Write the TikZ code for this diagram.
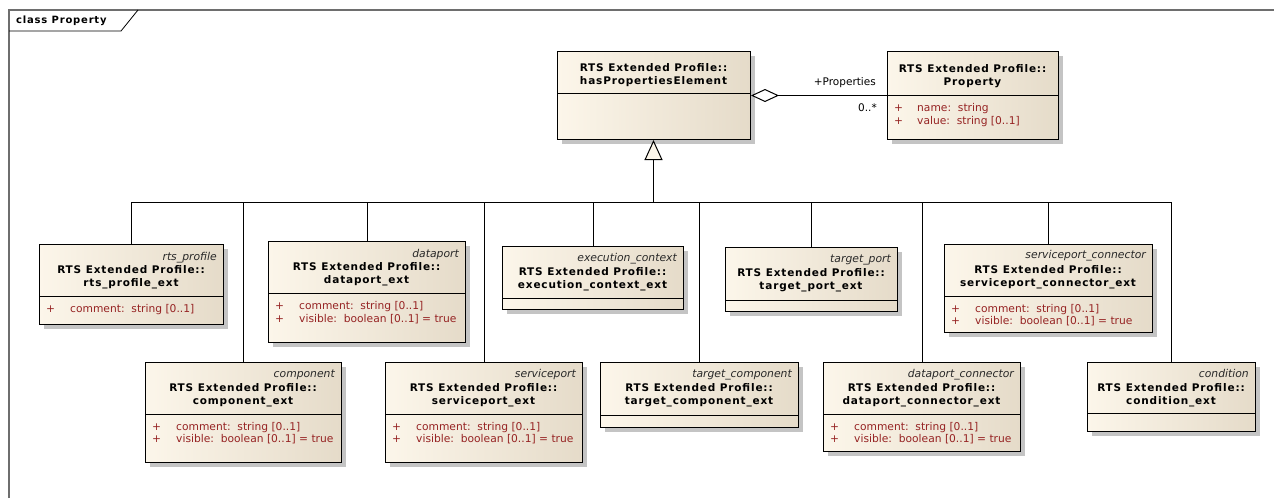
\documentclass[tikz,border=0pt]{standalone}
\usepackage{fontspec}
\setmainfont{DejaVu Sans}
\newfontfamily\clsfont[LetterSpace=8]{DejaVu Sans}
\usetikzlibrary{arrows.meta,shadows}
\definecolor{cls_light}{RGB}{252,246,234}
\definecolor{cls_dark}{RGB}{229,219,201}
\definecolor{attr_red}{RGB}{150,35,35}
\definecolor{stereo_grey}{RGB}{40,40,40}
\definecolor{shadow_grey}{RGB}{196,196,196}
\definecolor{frame_grey}{RGB}{110,110,110}
\tikzstyle{cls}=[draw=black,line width=1pt,left color=cls_light,right color=cls_dark,
  anchor=north west,inner sep=0pt,
  drop shadow={shadow xshift=4pt,shadow yshift=-4pt,fill=shadow_grey,opacity=1}]
\tikzstyle{ttl}=[inner sep=0pt,align=center,font=\clsfont\bfseries\fontsize{10.5}{13}\selectfont]
\tikzstyle{stereo}=[inner sep=0pt,anchor=base east,text=stereo_grey,
  font=\itshape\fontsize{10.8}{12}\selectfont]
\tikzstyle{attr}=[inner sep=0pt,anchor=base west,text=attr_red,
  font=\fontsize{10.7}{12}\selectfont]
\tikzstyle{lbl}=[inner sep=0pt,anchor=east,font=\fontsize{10.5}{12}\selectfont]
\tikzstyle{div}=[line width=1pt]
\tikzstyle{gen}=[line width=1pt,-{Triangle[length=20pt,width=18pt,fill=cls_light]}]
\tikzstyle{agg}=[line width=1pt,{Diamond[length=28pt,width=13pt,fill=white]}-]
\newcommand{\plus}{\makebox[24pt][l]{+}}

\begin{document}
\begin{tikzpicture}[x=1pt,y=-1pt]
		\useasboundingbox (0,0) rectangle (1274,498);
		% frame
		\draw [frame_grey, line width=1.5pt] (9,498) -- (9,10) -- (1274,10);
		\draw [line width=0.8pt] (9,31) -- (121,31) -- (138,10);
		\node [inner sep=0pt, anchor=west, font=\clsfont\bfseries\fontsize{10}{12}\selectfont] (frame) at (16,21) {class Property};
		% top row
		\node [style=cls, minimum width=193pt, minimum height=88pt] (hpe) at (557,51) {};
		\draw [style=div] ([yshift=-42pt]hpe.north west) -- ([yshift=-42pt]hpe.north east);
		\node [style=ttl] (hpe_t) at (653.5,75.5) {RTS Extended Profile::\\hasPropertiesElement};
		\node [style=cls, minimum width=171pt, minimum height=88pt] (prop) at (887,51) {};
		\draw [style=div] ([yshift=-44pt]prop.north west) -- ([yshift=-44pt]prop.north east);
		\node [style=ttl] (prop_t) at (972.5,76.5) {RTS Extended Profile::\\Property};
		\node [style=attr] (prop_a1) at (894,111) {\makebox[23pt][l]{+}name:\ \ string};
		\node [style=attr] (prop_a2) at (894,124) {\makebox[23pt][l]{+}value:\ \ string [0..1]};
		% middle row
		\node [style=cls, minimum width=184pt, minimum height=80pt] (rts) at (39,244) {};
		\draw [style=div] ([yshift=-52pt]rts.north west) -- ([yshift=-52pt]rts.north east);
		\node [style=stereo] (rts_s) at (217,260) {rts\_profile};
		\node [style=ttl] (rts_t) at (131,277.5) {RTS Extended Profile::\\rts\_profile\_ext};
		\node [style=attr] (rts_a1) at (46,312) {\plus comment:\ \ string [0..1]};
		\node [style=cls, minimum width=197pt, minimum height=101pt] (dp) at (268,241) {};
		\draw [style=div] ([yshift=-52pt]dp.north west) -- ([yshift=-52pt]dp.north east);
		\node [style=stereo] (dp_s) at (459,257) {dataport};
		\node [style=ttl] (dp_t) at (366.5,274.5) {RTS Extended Profile::\\dataport\_ext};
		\node [style=attr] (dp_a1) at (275,309) {\plus comment:\ \ string [0..1]};
		\node [style=attr] (dp_a2) at (275,322) {\plus visible:\ \ boolean [0..1] = true};
		\node [style=cls, minimum width=181pt, minimum height=63pt] (ec) at (502,246) {};
		\draw [style=div] ([yshift=-52pt]ec.north west) -- ([yshift=-52pt]ec.north east);
		\node [style=stereo] (ec_s) at (677,261) {execution\_context};
		\node [style=ttl] (ec_t) at (592.5,279.5) {RTS Extended Profile::\\execution\_context\_ext};
		\node [style=cls, minimum width=172pt, minimum height=64pt] (tp) at (725,247) {};
		\draw [style=div] ([yshift=-53pt]tp.north west) -- ([yshift=-53pt]tp.north east);
		\node [style=stereo] (tp_s) at (891,262) {target\_port};
		\node [style=ttl] (tp_t) at (811,280.5) {RTS Extended Profile::\\target\_port\_ext};
		\node [style=cls, minimum width=208pt, minimum height=88pt] (spc) at (944,244) {};
		\draw [style=div] ([yshift=-52pt]spc.north west) -- ([yshift=-52pt]spc.north east);
		\node [style=stereo] (spc_s) at (1146,258) {serviceport\_connector};
		\node [style=ttl] (spc_t) at (1048,277) {RTS Extended Profile::\\serviceport\_connector\_ext};
		\node [style=attr] (spc_a1) at (951,312) {\plus comment:\ \ string [0..1]};
		\node [style=attr] (spc_a2) at (951,324) {\plus visible:\ \ boolean [0..1] = true};
		% bottom row
		\node [style=cls, minimum width=196pt, minimum height=100pt] (comp) at (145,362) {};
		\draw [style=div] ([yshift=-52pt]comp.north west) -- ([yshift=-52pt]comp.north east);
		\node [style=stereo] (comp_s) at (335,377) {component};
		\node [style=ttl] (comp_t) at (243,395.5) {RTS Extended Profile::\\component\_ext};
		\node [style=attr] (comp_a1) at (152,430) {\plus comment:\ \ string [0..1]};
		\node [style=attr] (comp_a2) at (152,442) {\plus visible:\ \ boolean [0..1] = true};
		\node [style=cls, minimum width=197pt, minimum height=100pt] (sp) at (385,362) {};
		\draw [style=div] ([yshift=-52pt]sp.north west) -- ([yshift=-52pt]sp.north east);
		\node [style=stereo] (sp_s) at (576,377) {serviceport};
		\node [style=ttl] (sp_t) at (483.5,395.5) {RTS Extended Profile::\\serviceport\_ext};
		\node [style=attr] (sp_a1) at (392,430) {\plus comment:\ \ string [0..1]};
		\node [style=attr] (sp_a2) at (392,442) {\plus visible:\ \ boolean [0..1] = true};
		\node [style=cls, minimum width=198pt, minimum height=65pt] (tc) at (600,362) {};
		\draw [style=div] ([yshift=-53pt]tc.north west) -- ([yshift=-53pt]tc.north east);
		\node [style=stereo] (tc_s) at (792,377) {target\_component};
		\node [style=ttl] (tc_t) at (699,395.5) {RTS Extended Profile::\\target\_component\_ext};
		\node [style=cls, minimum width=197pt, minimum height=89pt] (dpc) at (823,362) {};
		\draw [style=div] ([yshift=-52pt]dpc.north west) -- ([yshift=-52pt]dpc.north east);
		\node [style=stereo] (dpc_s) at (1014,377) {dataport\_connector};
		\node [style=ttl] (dpc_t) at (921.5,395.5) {RTS Extended Profile::\\dataport\_connector\_ext};
		\node [style=attr] (dpc_a1) at (830,430) {\plus comment:\ \ string [0..1]};
		\node [style=attr] (dpc_a2) at (830,442) {\plus visible:\ \ boolean [0..1] = true};
		\node [style=cls, minimum width=168pt, minimum height=69pt] (cond) at (1087,362) {};
		\draw [style=div] ([yshift=-51pt]cond.north west) -- ([yshift=-51pt]cond.north east);
		\node [style=stereo] (cond_s) at (1249,377) {condition};
		\node [style=ttl] (cond_t) at (1171,395.5) {RTS Extended Profile::\\condition\_ext};
		% connectors
		\coordinate (bus) at (653.5,202);
		\foreach \c in {rts,comp,dp,sp,ec,tc,tp,dpc,spc,cond}
			\draw [line width=1pt] (\c.north) |- (bus);
		\draw [style=gen] (bus) -- (bus |- hpe.south);
		\draw [style=agg] (hpe.east) -- (hpe.east -| prop.west);
		\node [style=lbl] (role) at (876,83) {+Properties};
		\node [style=lbl] (mult) at (877,108) {0..*};
\end{tikzpicture}
\end{document}
